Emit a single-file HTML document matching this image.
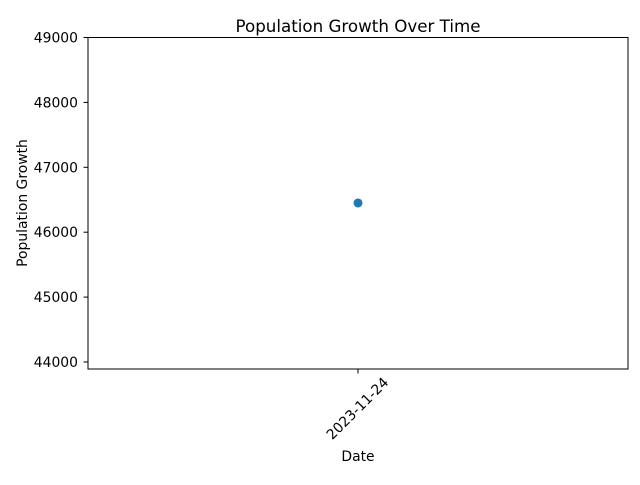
<!DOCTYPE html>
<html><head><meta charset="utf-8"><style>
body{margin:0;background:#fff;}
svg text{font-family:"DejaVu Sans","Liberation Sans",sans-serif;fill:#000;}
</style></head><body>
<svg id="chart" width="640" height="480" xmlns="http://www.w3.org/2000/svg"></svg>
<script>
const categories = ["2023-11-24"];
const values = [46450];
const yTicks = [44000, 45000, 46000, 47000, 48000, 49000];

const svg = document.getElementById('chart');
const NS = 'http://www.w3.org/2000/svg';
const L = 88, R = 628, T = 37.5, B = 369;
const yMin = 43892, yMax = 49000;
const y = v => B - (v - yMin) / (yMax - yMin) * (B - T);
const x = i => L + (R - L) * (i + 1) / (categories.length + 1);
function el(tag, attrs, text) {
  const e = document.createElementNS(NS, tag);
  for (const k in attrs) e.setAttribute(k, attrs[k]);
  if (text !== undefined) e.textContent = text;
  svg.appendChild(e);
  return e;
}
let t = el('text', {x: 358, y: 32, 'font-size': 16.7, 'text-anchor': 'middle'}, 'Population Growth Over Time');


let fr = el('rect', {x: L, y: T, width: R - L, height: B - T, fill: 'none', stroke: '#000', 'stroke-width': 1});


yTicks.forEach(v => {
  const ln = el('line', {x1: L - 4.5, x2: L, y1: y(v), y2: y(v), stroke: '#000'});
  
  
  const tx = el('text', {x: L - 10, y: y(v) + 5, 'font-size': 13.9, 'text-anchor': 'end'}, String(v));
  
  
});
categories.forEach((c, i) => {
  const ln = el('line', {x1: x(i), x2: x(i), y1: B, y2: B + 4.5, stroke: '#000'});
  
  
  const cx = x(i), cy = B + 40;
  const tx = el('text', {x: cx, y: cy, 'font-size': 13.9, 'text-anchor': 'middle', 'dominant-baseline': 'central', transform: `rotate(-45 ${cx} ${cy})`}, c);
  
  
  const pt = el('circle', {cx: x(i), cy: y(values[i]), r: 4.5, fill: '#1f77b4'});
  
  
});
let xl = el('text', {x: 358, y: 461, 'font-size': 13.9, 'text-anchor': 'middle'}, 'Date');


let yl = el('text', {x: 27, y: 203, 'font-size': 13.9, 'text-anchor': 'middle', transform: 'rotate(-90 27 203)'}, 'Population Growth');


</script>
</body></html>
